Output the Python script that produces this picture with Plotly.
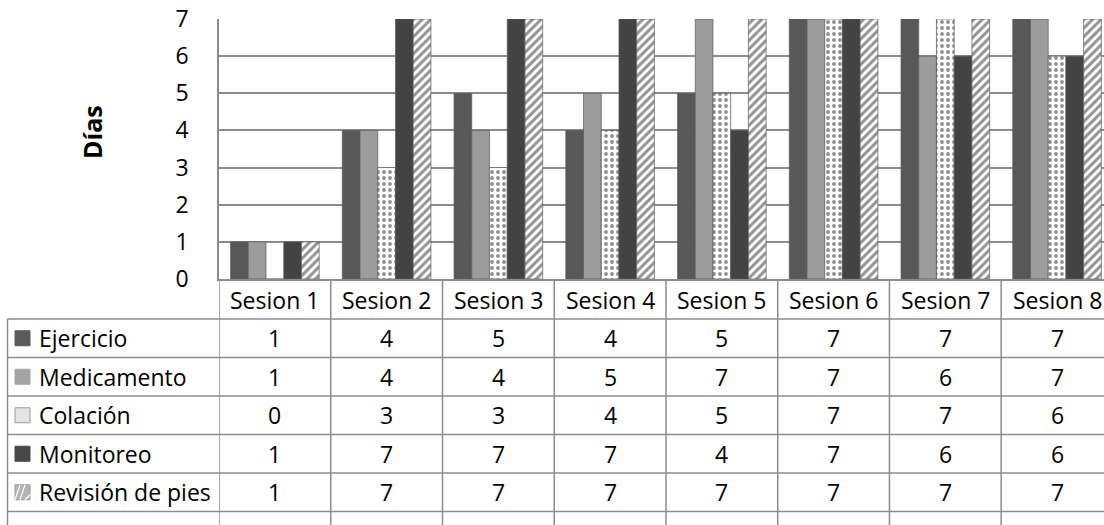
import plotly.graph_objects as go

# ---- data ----
sessions = ["Sesion 1", "Sesion 2", "Sesion 3", "Sesion 4", "Sesion 5", "Sesion 6", "Sesion 7", "Sesion 8"]
series_names = ["Ejercicio", "Medicamento", "Colación", "Monitoreo", "Revisión de pies"]
ejercicio = [1, 4, 5, 4, 5, 7, 7, 7]
medicamento = [1, 4, 4, 5, 7, 7, 6, 7]
colacion = [0, 3, 3, 4, 5, 7, 7, 6]
monitoreo = [1, 7, 7, 7, 4, 7, 6, 6]
revision = [1, 7, 7, 7, 7, 7, 7, 7]
y_ticks = [0, 1, 2, 3, 4, 5, 6, 7]
y_title = "Días"

series_values = [ejercicio, medicamento, colacion, monitoreo, revision]

# ---- styling ----
W, H = 1104, 525
FONT = "Open Sans"
FS = 23
LINE = "#8c8c8c"
styles = [
    dict(color="#585858"),
    dict(color="#9c9c9c"),
    dict(color="white", pattern=dict(shape=".", fgcolor="#1e1e1e", bgcolor="white", size=6, solidity=0.32)),
    dict(color="#434343"),
    dict(color="white", pattern=dict(shape="/", fgcolor="#262626", bgcolor="white", size=6, solidity=0.5)),
]
icon_fill = ["#5a5a5a", "#a4a4a4", "#e4e4e4", "#474747", "#b4b4b4"]

def py(px):  # pixel row -> paper y
    return (H - px) / H

x_idx = list(range(len(sessions)))

fig = go.Figure()
for name, vals, st in zip(series_names, series_values, styles):
    fig.add_trace(go.Bar(
        x=x_idx, y=vals, name=name,
        marker=dict(line=dict(width=0.7, color="#5a5a5a"), **st),
        showlegend=False,
    ))

plot_top, plot_bot = 19, 279
header_c = 299.5
row_lines = [319, 357.5, 396, 434.5, 473, 511.5]
row_centers = [(row_lines[i] + row_lines[i + 1]) / 2 if i + 1 < len(row_lines) else row_lines[i] + 19.25
               for i in range(len(series_names))]

shapes = []
annotations = []
# vertical lines between categories through the table
for k in range(len(sessions)):
    shapes.append(dict(type="line", xref="x", yref="paper", x0=k - 0.5, x1=k - 0.5,
                       y0=py(plot_bot), y1=py(H + 5), line=dict(color=LINE, width=1.5)))
# left border of label column
shapes.append(dict(type="line", xref="paper", yref="paper", x0=7.5 / W, x1=7.5 / W,
                   y0=py(row_lines[0]), y1=py(H + 5), line=dict(color=LINE, width=1.5)))
# horizontal row lines
for rl in row_lines:
    shapes.append(dict(type="line", xref="paper", yref="paper", x0=7.5 / W, x1=1,
                       y0=py(rl), y1=py(rl), line=dict(color=LINE, width=1.5)))

# header labels
for k, s in enumerate(sessions):
    annotations.append(dict(x=k, y=py(header_c), xref="x", yref="paper", text=s, showarrow=False,
                            font=dict(family=FONT, size=FS, color="black"), xanchor="center", yanchor="middle"))
# rows
for r, (name, vals) in enumerate(zip(series_names, series_values)):
    cy = row_centers[r]
    annotations.append(dict(x=37 / W, y=py(cy), xref="paper", yref="paper", text=name, showarrow=False,
                            font=dict(family=FONT, size=FS, color="black"), xanchor="left", yanchor="middle"))
    shapes.append(dict(type="rect", xref="paper", yref="paper", x0=15 / W, x1=30 / W,
                       y0=py(cy + 7.5), y1=py(cy - 7.5), fillcolor=icon_fill[r],
                       line=dict(color="#9a9a9a" if r in (2, 4) else icon_fill[r], width=1)))
    if r == 4:
        for d in (0, 5, 10):
            shapes.append(dict(type="line", xref="paper", yref="paper",
                               x0=(15 + d) / W, x1=(20 + d) / W, y0=py(cy + 7.5), y1=py(cy - 7.5) if d < 10 else py(cy + 2.5),
                               line=dict(color="white", width=1.2)))
    for k, v in enumerate(vals):
        annotations.append(dict(x=k, y=py(cy), xref="x", yref="paper", text=str(v), showarrow=False,
                                font=dict(family=FONT, size=FS, color="black"), xanchor="center", yanchor="middle"))

annotations.append(dict(x=92 / W, y=py(132), xref="paper", yref="paper", text="<b>%s</b>" % y_title,
                        showarrow=False, textangle=-90, font=dict(family=FONT, size=25, color="black"),
                        xanchor="center", yanchor="middle"))

fig.update_layout(
    width=W, height=H, autosize=False,
    margin=dict(l=0, r=0, t=0, b=0, pad=0, autoexpand=False),
    paper_bgcolor="white", plot_bgcolor="white",
    barmode="group", bargap=0.207, bargroupgap=0,
    shapes=shapes, annotations=annotations,
    font=dict(family=FONT, size=FS, color="black"),
    xaxis=dict(domain=[219 / W, 1], range=[-0.5, 7.42], showticklabels=False, showgrid=False,
               zeroline=False, showline=True, linecolor=LINE, linewidth=1.5, ticks="", automargin=False),
    yaxis=dict(domain=[py(plot_bot), py(plot_top)], range=[0, 7], tickvals=y_ticks,
               showgrid=True, gridcolor=LINE, gridwidth=1.5, zeroline=False,
               showline=True, linecolor=LINE, linewidth=1.5, ticks="", automargin=False,
               ticklabelstandoff=24, tickfont=dict(family=FONT, size=FS, color="black")),
)

fig.write_html("out.html", config={"displayModeBar": False, "responsive": False},
               post_script="document.body.style.margin='0';document.body.style.overflow='hidden';")
